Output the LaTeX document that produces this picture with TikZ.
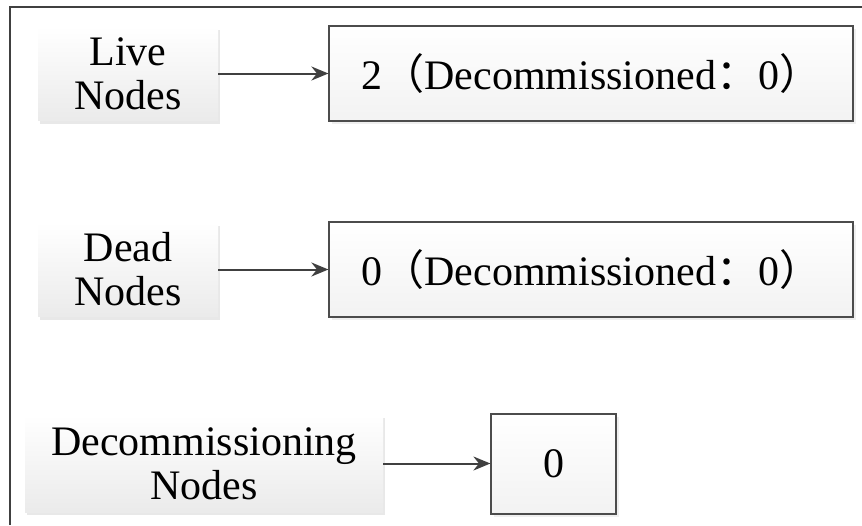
\documentclass[tikz,border=0pt]{standalone}
\usepackage{fontspec}
\setmainfont{Liberation Serif}
\newfontfamily\cjk{Noto Sans CJK SC}
\usepackage{tikz}
\usetikzlibrary{positioning, shadows, arrows.meta}
\tikzstyle{kind} = [rectangle, minimum width=90pt, minimum height=47pt, text centered, align=center, top color=white, bottom color=gray!16, drop shadow={shadow xshift=1.2pt, shadow yshift=-1.6pt, fill=gray!35}, font=\fontsize{21}{22}\selectfont]
\tikzstyle{countbox} = [rectangle, minimum width=262pt, minimum height=47.5pt, text centered, draw=black!70, line width=1pt, top color=white, bottom color=gray!10, drop shadow={shadow xshift=1.2pt, shadow yshift=-1.6pt, fill=gray!25}, font=\fontsize{21}{22}\selectfont]

\begin{document}
\begin{tikzpicture}[x=0.5pt, y=-0.5pt]
		\useasboundingbox (0,0) rectangle (862,525);
		\draw [black!75, line width=0.9pt] (10,525) -- (10,7) -- (862,7);
		\node (Live Nodes)[kind] at (128,73.5) {Live\\Nodes};
		\node (Live Count)[countbox, right = 55pt of Live Nodes] {2{\cjk （}Decommissioned{\cjk ：}0{\cjk ）}};
		\node (Dead Nodes)[kind] at (128,269.5) {Dead\\Nodes};
		\node (Dead Count)[countbox, right = 55pt of Dead Nodes] {0{\cjk （}Decommissioned{\cjk ：}0{\cjk ）}};
		\node (Decommissioning Nodes)[kind, minimum width=179pt, minimum height=48.5pt] at (204,463.5) {Decommissioning\\Nodes};
		\node (Decommissioning Count)[countbox, minimum width=62.5pt, minimum height=50pt, right = 53.5pt of Decommissioning Nodes] {0};
		\draw [-{Stealth[length=8.5pt, width=7pt]}, black!75, line width=1pt] (Live Nodes) -- (Live Count);
		\draw [-{Stealth[length=8.5pt, width=7pt]}, black!75, line width=1pt] (Dead Nodes) -- (Dead Count);
		\draw [-{Stealth[length=8.5pt, width=7pt]}, black!75, line width=1pt] (Decommissioning Nodes) -- (Decommissioning Count);
	\end{tikzpicture}
\end{document}
